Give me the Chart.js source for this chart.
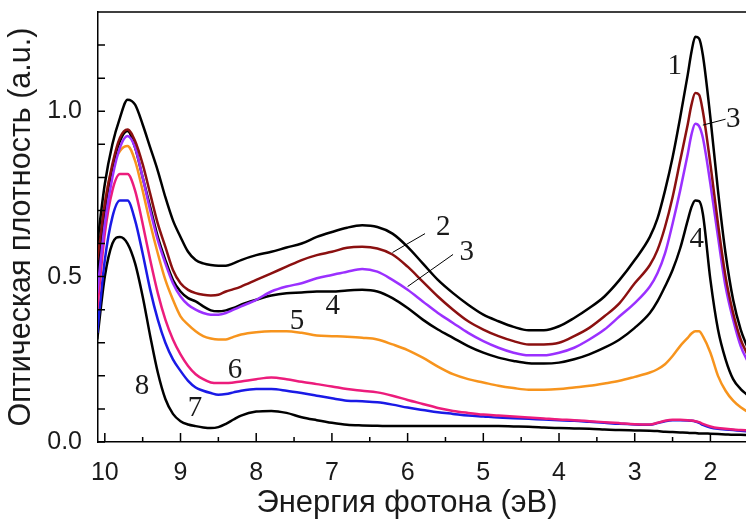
<!DOCTYPE html>
<html>
<head>
<meta charset="utf-8">
<script src="https://cdn.jsdelivr.net/npm/chart.js@4.4.1/dist/chart.umd.min.js"></script>
<style>
  html, body { margin: 0; padding: 0; background: #fff; }
  #wrap { width: 746px; height: 524px; position: relative; }
</style>
</head>
<body>
<div id="wrap"><canvas id="myChart"></canvas></div>
<script>
var energy = [10.1, 10.0, 9.9, 9.8, 9.7, 9.6, 9.5, 9.4, 9.3, 9.2, 9.1, 9.0, 8.9, 8.8, 8.7, 8.6, 8.5, 8.4, 8.3, 8.2,
  8.0, 7.8, 7.6, 7.4, 7.2, 7.0, 6.8, 6.6, 6.4, 6.2, 6.0, 5.8, 5.6, 5.4, 5.2, 5.0, 4.8, 4.6, 4.4, 4.2, 4.0,
  3.8, 3.6, 3.4, 3.2, 3.0, 2.8, 2.7, 2.6, 2.5, 2.4, 2.3, 2.25, 2.2, 2.15, 2.1, 2.0, 1.9, 1.8, 1.7, 1.6, 1.5];

var curve1 = [0.60, 0.78, 0.90, 0.98, 1.035, 1.02, 0.96, 0.89, 0.82, 0.74, 0.67, 0.62, 0.575, 0.55, 0.54, 0.535, 0.533, 0.533, 0.54, 0.55,
  0.565, 0.575, 0.588, 0.60, 0.62, 0.635, 0.648, 0.655, 0.65, 0.63, 0.59, 0.54, 0.49, 0.45, 0.415, 0.385, 0.365, 0.348, 0.338, 0.338, 0.35,
  0.375, 0.405, 0.44, 0.49, 0.55, 0.62, 0.675, 0.76, 0.86, 0.98, 1.11, 1.18, 1.225, 1.22, 1.17, 0.98, 0.76, 0.57, 0.43, 0.34, 0.28];
var curve2 = [0.55, 0.72, 0.84, 0.92, 0.945, 0.91, 0.84, 0.75, 0.66, 0.59, 0.52, 0.48, 0.46, 0.45, 0.445, 0.443, 0.445, 0.455, 0.462, 0.47,
  0.49, 0.51, 0.53, 0.55, 0.565, 0.575, 0.587, 0.59, 0.585, 0.567, 0.53, 0.485, 0.44, 0.40, 0.365, 0.34, 0.32, 0.305, 0.295, 0.295, 0.30,
  0.32, 0.345, 0.38, 0.42, 0.48, 0.535, 0.58, 0.65, 0.74, 0.85, 0.96, 1.02, 1.055, 1.05, 1.0, 0.84, 0.66, 0.5, 0.39, 0.31, 0.26];
var curve3 = [0.45, 0.66, 0.80, 0.89, 0.925, 0.89, 0.80, 0.70, 0.61, 0.54, 0.48, 0.44, 0.415, 0.40, 0.39, 0.385, 0.385, 0.39, 0.40, 0.41,
  0.43, 0.455, 0.47, 0.48, 0.495, 0.505, 0.515, 0.523, 0.515, 0.49, 0.46, 0.425, 0.39, 0.36, 0.33, 0.305, 0.285, 0.27, 0.262, 0.262, 0.27,
  0.285, 0.31, 0.34, 0.38, 0.42, 0.47, 0.51, 0.57, 0.66, 0.76, 0.87, 0.93, 0.962, 0.955, 0.92, 0.78, 0.62, 0.47, 0.37, 0.29, 0.24];
var curve4 = [0.50, 0.70, 0.83, 0.91, 0.94, 0.89, 0.80, 0.71, 0.62, 0.55, 0.49, 0.455, 0.435, 0.425, 0.41, 0.398, 0.395, 0.398, 0.405, 0.415,
  0.43, 0.443, 0.45, 0.452, 0.455, 0.455, 0.458, 0.46, 0.455, 0.435, 0.405, 0.37, 0.34, 0.315, 0.29, 0.27, 0.255, 0.245, 0.238, 0.237, 0.24,
  0.25, 0.265, 0.285, 0.31, 0.345, 0.39, 0.425, 0.47, 0.52, 0.585, 0.67, 0.71, 0.73, 0.728, 0.69, 0.49, 0.34, 0.25, 0.19, 0.16, 0.14];
var curve5 = [0.52, 0.72, 0.83, 0.88, 0.895, 0.85, 0.76, 0.66, 0.57, 0.49, 0.43, 0.38, 0.355, 0.335, 0.32, 0.313, 0.31, 0.31, 0.318, 0.325,
  0.332, 0.335, 0.335, 0.33, 0.322, 0.32, 0.318, 0.315, 0.31, 0.295, 0.278, 0.255, 0.228, 0.205, 0.19, 0.18, 0.17, 0.163, 0.158, 0.158, 0.16,
  0.165, 0.17, 0.177, 0.185, 0.197, 0.21, 0.22, 0.235, 0.26, 0.29, 0.315, 0.328, 0.335, 0.335, 0.32, 0.27, 0.2, 0.155, 0.125, 0.105, 0.09];
var curve6 = [0.40, 0.63, 0.76, 0.81, 0.81, 0.76, 0.66, 0.55, 0.45, 0.37, 0.31, 0.265, 0.23, 0.205, 0.19, 0.18, 0.178, 0.178, 0.18, 0.183,
  0.19, 0.195, 0.19, 0.182, 0.175, 0.168, 0.16, 0.155, 0.15, 0.14, 0.127, 0.115, 0.103, 0.094, 0.088, 0.083, 0.08, 0.077, 0.074, 0.071, 0.068,
  0.066, 0.063, 0.06, 0.057, 0.054, 0.053, 0.058, 0.064, 0.067, 0.067, 0.066, 0.065, 0.063, 0.06, 0.055, 0.047, 0.042, 0.04, 0.038, 0.036, 0.035];
var curve7 = [0.33, 0.55, 0.68, 0.73, 0.73, 0.67, 0.57, 0.46, 0.37, 0.30, 0.25, 0.215, 0.185, 0.165, 0.155, 0.148, 0.143, 0.145, 0.15, 0.155,
  0.16, 0.16, 0.155, 0.148, 0.14, 0.132, 0.125, 0.123, 0.12, 0.113, 0.104, 0.097, 0.09, 0.085, 0.08, 0.077, 0.074, 0.072, 0.07, 0.068, 0.066,
  0.064, 0.061, 0.058, 0.055, 0.053, 0.052, 0.057, 0.063, 0.066, 0.066, 0.065, 0.064, 0.062, 0.058, 0.052, 0.044, 0.04, 0.038, 0.036, 0.034, 0.032];
var curve8 = [0.31, 0.50, 0.60, 0.62, 0.60, 0.54, 0.44, 0.32, 0.21, 0.13, 0.085, 0.063, 0.053, 0.048, 0.044, 0.042, 0.045, 0.055, 0.068, 0.08,
  0.092, 0.094, 0.088, 0.075, 0.066, 0.058, 0.052, 0.05, 0.049, 0.048, 0.048, 0.048, 0.048, 0.048, 0.048, 0.048, 0.048, 0.047, 0.046, 0.044, 0.042,
  0.041, 0.04, 0.038, 0.036, 0.035, 0.034, 0.033, 0.031, 0.03, 0.029, 0.028, 0.027, 0.027, 0.026, 0.026, 0.025, 0.024, 0.023, 0.022, 0.022, 0.021];

var series = [curve1, curve2, curve3, curve4, curve5, curve6, curve7, curve8];
var colors = ['#000000', '#8b1010', '#9b30ff', '#000000', '#f7941d', '#ec1c7c', '#1a1ae6', '#000000'];

var xTicks = [10, 9.5, 9, 8.5, 8, 7.5, 7, 6.5, 6, 5.5, 5, 4.5, 4, 3.5, 3, 2.5, 2];
var yTicks = [0, 0.1, 0.2, 0.3, 0.4, 0.5, 0.6, 0.7, 0.8, 0.9, 1.0, 1.1, 1.2];
var yLabels = [0, 0.5, 1.0];

// curve numbers, placed in data coordinates
var tags = [
  {t: '1', x: 2.47, y: 1.135}, {t: '3', x: 1.70, y: 0.976},
  {t: '2', x: 5.53, y: 0.648}, {t: '3', x: 5.22, y: 0.573},
  {t: '4', x: 6.99, y: 0.41}, {t: '5', x: 7.46, y: 0.364},
  {t: '4', x: 2.18, y: 0.612}, {t: '6', x: 8.28, y: 0.218},
  {t: '8', x: 9.51, y: 0.167}, {t: '7', x: 8.81, y: 0.103}
];
var leaders = [
  [2.10, 0.958, 1.80, 0.976],
  [6.20, 0.573, 5.77, 0.63],
  [6.00, 0.47, 5.40, 0.567]
];

var datasets = series.map(function (s, k) {
  return {
    data: energy.map(function (e, i) { return {x: e, y: s[i]}; }),
    borderColor: colors[k],
    borderWidth: 2.5,
    pointRadius: 0,
    fill: false,
    cubicInterpolationMode: 'monotone'
  };
});

var frame = {
  id: 'frame',
  afterDatasetsDraw: function (chart) {
    var ctx = chart.ctx, a = chart.chartArea;
    var xs = chart.scales.x, ys = chart.scales.y;
    ctx.save();
    ctx.strokeStyle = '#000';
    ctx.lineWidth = 1.5;
    ctx.beginPath();
    ctx.moveTo(a.left, a.top);
    ctx.lineTo(a.right, a.top);
    xTicks.forEach(function (v) {
      var px = xs.getPixelForValue(v);
      var len = Number.isInteger(v) ? 9 : 5;
      ctx.moveTo(px, a.bottom);
      ctx.lineTo(px, a.bottom - len);
    });
    yTicks.forEach(function (v) {
      var py = ys.getPixelForValue(v);
      ctx.moveTo(a.left, py);
      ctx.lineTo(a.left + 7, py);
    });
    ctx.stroke();

    ctx.lineWidth = 1;
    ctx.beginPath();
    leaders.forEach(function (l) {
      ctx.moveTo(xs.getPixelForValue(l[0]), ys.getPixelForValue(l[1]));
      ctx.lineTo(xs.getPixelForValue(l[2]), ys.getPixelForValue(l[3]));
    });
    ctx.stroke();

    ctx.fillStyle = '#1a1a1a';
    ctx.font = '29px "Liberation Serif"';
    ctx.textAlign = 'center';
    ctx.textBaseline = 'middle';
    tags.forEach(function (g) {
      ctx.fillText(g.t, xs.getPixelForValue(g.x), ys.getPixelForValue(g.y));
    });

    ctx.font = '31px "Liberation Sans"';
    ctx.textBaseline = 'alphabetic';
    ctx.fillText('Энергия фотона (эВ)', 407, 512);
    ctx.restore();
  }
};

new Chart('myChart', {
  type: 'line',
  data: { datasets: datasets },
  options: {
    responsive: true,
    maintainAspectRatio: false,
    animation: false,
    layout: { padding: { top: 12, right: 0, left: 0, bottom: 0 } },
    plugins: { legend: { display: false }, tooltip: { enabled: false } },
    scales: {
      x: {
        type: 'linear',
        reverse: true,
        min: 1.53,
        max: 10.09,
        afterFit: function (s) { s.height = 82; s.paddingLeft = 0; s.paddingRight = 0; },
        afterBuildTicks: function (s) { s.ticks = xTicks.map(function (v) { return {value: v}; }); },
        grid: { display: false },
        border: { display: true, color: '#000', width: 1.5 },
        ticks: {
          autoSkip: false,
          maxRotation: 0,
          padding: 8,
          color: '#1a1a1a',
          font: { family: 'Liberation Sans', size: 25 },
          callback: function (v) { return Number.isInteger(v) ? String(v) : ''; }
        }
      },
      y: {
        min: 0,
        max: 1.3,
        afterFit: function (s) { s.width = 98; s.paddingTop = 0; s.paddingBottom = 0; },
        afterBuildTicks: function (s) { s.ticks = yTicks.map(function (v) { return {value: v}; }); },
        grid: { display: false },
        border: { display: true, color: '#000', width: 1.5 },
        ticks: {
          autoSkip: false,
          padding: 8,
          color: '#1a1a1a',
          font: { family: 'Liberation Sans', size: 25 },
          callback: function (v) {
            return yLabels.some(function (t) { return Math.abs(t - v) < 1e-6; }) ? v.toFixed(1) : '';
          }
        },
        title: {
          display: true,
          text: 'Оптическая плотность (a.u.)',
          color: '#1a1a1a',
          font: { family: 'Liberation Sans', size: 30.5 },
          padding: { top: 3, bottom: 0 }
        }
      }
    }
  },
  plugins: [frame]
});
</script>
</body>
</html>
